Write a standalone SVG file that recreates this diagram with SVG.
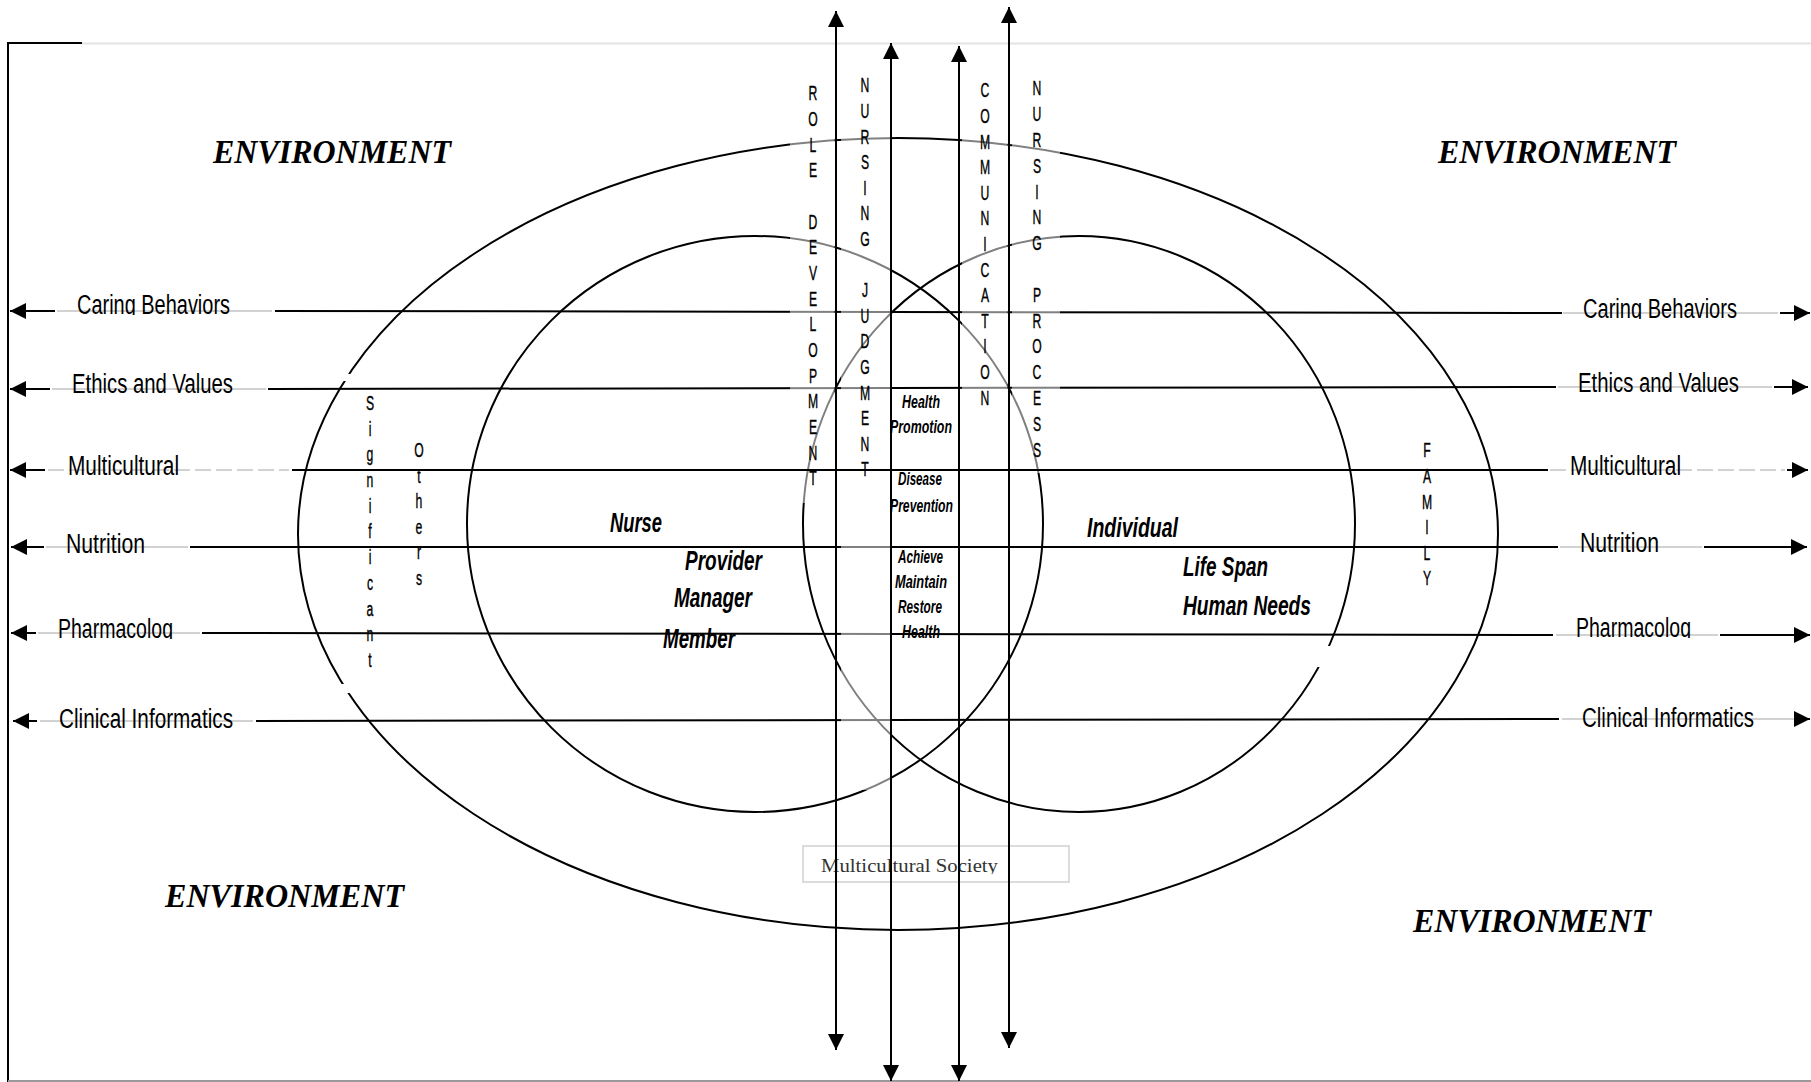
<svg xmlns="http://www.w3.org/2000/svg" width="1811" height="1082" viewBox="0 0 1811 1082">
<defs>
<style>
.ln{stroke:#000;stroke-width:2;fill:none}
.gl{stroke:#d2d2d2;stroke-width:2;fill:none}
.gd{stroke:#d2d2d2;stroke-width:2;fill:none;stroke-dasharray:16 5}
.shape{stroke:#000;stroke-width:2;fill:none}
.veil{fill:#fff;fill-opacity:0.5;stroke:none}
.lbl{font-family:"Liberation Sans",Arial,sans-serif;font-size:27px;fill:#000}
.env{font-family:"Liberation Serif","Times New Roman",serif;font-size:33px;font-weight:bold;font-style:italic;fill:#000}
.bi{font-family:"Liberation Sans",Arial,sans-serif;font-weight:bold;font-style:italic;fill:#000}
.col{font-family:"Liberation Sans",Arial,sans-serif;font-size:21px;fill:#000;text-anchor:middle;stroke:#000;stroke-width:0.4}
</style>
<marker id="ah" viewBox="0 0 16 16" refX="16" refY="8" markerWidth="16" markerHeight="16" markerUnits="userSpaceOnUse" orient="auto-start-reverse"><path d="M0,0 L16,8 L0,16 z" fill="#000"/></marker>
<clipPath id="clipL1"><rect x="0" y="250" width="300" height="65"/></clipPath>
<clipPath id="clipR1"><rect x="1500" y="250" width="311" height="69"/></clipPath>
<clipPath id="clipL5"><rect x="0" y="580" width="300" height="59"/></clipPath>
<clipPath id="clipR5"><rect x="1500" y="580" width="311" height="58"/></clipPath>
<clipPath id="clipMS"><rect x="800" y="840" width="280" height="34"/></clipPath>
</defs>
<rect width="1811" height="1082" fill="#fff"/>

<g id="frame">
<line x1="82" y1="43.5" x2="1811" y2="43.5" stroke="#e4e4e4" stroke-width="2"/>
<line x1="8" y1="43" x2="82" y2="43" class="ln"/>
<line x1="8" y1="42" x2="8" y2="1082" class="ln"/>
<line x1="8" y1="1081" x2="1811" y2="1081" stroke="#9a9a9a" stroke-width="2"/>
</g>

<g id="outer-ellipse"><ellipse cx="898" cy="534" rx="600" ry="396" class="shape"/></g>
<g id="nurse-circle"><ellipse cx="755" cy="524" rx="288" ry="288" class="shape"/></g>
<g id="individual-circle"><ellipse cx="1079" cy="524" rx="276" ry="288" class="shape"/></g>

<g id="connectors">
<!-- Caring Behaviors -->
<line x1="55" y1="311" x2="10" y2="311" class="ln" marker-end="url(#ah)"/>
<line x1="57" y1="311" x2="272" y2="311" class="gl"/>
<line x1="275" y1="311" x2="1562" y2="313" class="ln"/>
<line x1="1563" y1="313" x2="1778" y2="313" class="gl"/>
<line x1="1780" y1="313" x2="1810" y2="313" class="ln" marker-end="url(#ah)"/>
<!-- Ethics and Values -->
<line x1="50" y1="389" x2="10" y2="389" class="ln" marker-end="url(#ah)"/>
<line x1="52" y1="389" x2="266" y2="389" class="gl"/>
<line x1="268" y1="389" x2="1556" y2="387" class="ln"/>
<line x1="1558" y1="387" x2="1772" y2="387" class="gl"/>
<line x1="1774" y1="387" x2="1808" y2="387" class="ln" marker-end="url(#ah)"/>
<!-- Nutrition -->
<line x1="44" y1="547" x2="11" y2="547" class="ln" marker-end="url(#ah)"/>
<line x1="46" y1="547" x2="188" y2="547" class="gl"/>
<line x1="190" y1="547" x2="1558" y2="547" class="ln"/>
<line x1="1560" y1="547" x2="1702" y2="547" class="gl"/>
<line x1="1704" y1="547" x2="1807" y2="547" class="ln" marker-end="url(#ah)"/>
<!-- Pharmacolog -->
<line x1="36" y1="633" x2="11" y2="633" class="ln" marker-end="url(#ah)"/>
<line x1="38" y1="633" x2="200" y2="633" class="gl"/>
<line x1="202" y1="633" x2="1553" y2="635" class="ln"/>
<line x1="1556" y1="635" x2="1718" y2="635" class="gl"/>
<line x1="1720" y1="635" x2="1810" y2="635" class="ln" marker-end="url(#ah)"/>
<!-- Clinical Informatics -->
<line x1="37" y1="721" x2="13" y2="721" class="ln" marker-end="url(#ah)"/>
<line x1="40" y1="721" x2="253" y2="721" class="gl"/>
<line x1="256" y1="721" x2="1559" y2="719" class="ln"/>
<line x1="1562" y1="719" x2="1795" y2="719" class="gl"/>
<line x1="1795" y1="719" x2="1810" y2="719" class="ln" marker-end="url(#ah)"/>
</g>

<g id="column-veils">
<rect x="790" y="75" width="44.5" height="428" class="veil"/>
<rect x="841" y="75" width="49" height="715" class="veil"/>
<rect x="962" y="75" width="45.5" height="340" class="veil"/>
<rect x="1012" y="75" width="48" height="398" class="veil"/>
</g>

<g id="connectors-multicultural">
<line x1="45" y1="470" x2="10" y2="470" class="ln" marker-end="url(#ah)"/>
<line x1="48" y1="470" x2="289" y2="470" class="gd"/>
<line x1="292" y1="470" x2="1548" y2="470" class="ln"/>
<line x1="1550" y1="470" x2="1785" y2="470" class="gd"/>
<line x1="1787" y1="470" x2="1808" y2="470" class="ln" marker-end="url(#ah)"/>
</g>

<g id="gaps" fill="#fff">
<rect x="340" y="374" width="13" height="7"/>
<rect x="340" y="684" width="14" height="9"/>
<rect x="1313" y="646" width="22" height="21"/>
</g>

<g id="multicultural-society">
<rect x="803" y="846" width="266" height="36" fill="#fff" stroke="#dcdcdc" stroke-width="2"/>
<text x="821" y="872" clip-path="url(#clipMS)" font-family="Liberation Serif,'Times New Roman',serif" font-size="19" fill="#333" textLength="177" lengthAdjust="spacingAndGlyphs">Multicultural Society</text>
</g>

<g id="vertical-arrows">
<line x1="836" y1="11" x2="836" y2="1050" class="ln" marker-start="url(#ah)" marker-end="url(#ah)"/>
<line x1="891" y1="43" x2="891" y2="1081" class="ln" marker-start="url(#ah)" marker-end="url(#ah)"/>
<line x1="959" y1="46" x2="959" y2="1081" class="ln" marker-start="url(#ah)" marker-end="url(#ah)"/>
<line x1="1009" y1="7" x2="1009" y2="1048" class="ln" marker-start="url(#ah)" marker-end="url(#ah)"/>
</g>

<g id="environment-labels">
<text class="env" x="213" y="163" textLength="238" lengthAdjust="spacingAndGlyphs">ENVIRONMENT</text>
<text class="env" x="1438" y="163" textLength="238" lengthAdjust="spacingAndGlyphs">ENVIRONMENT</text>
<text class="env" x="165" y="907" textLength="239" lengthAdjust="spacingAndGlyphs">ENVIRONMENT</text>
<text class="env" x="1413" y="932" textLength="238" lengthAdjust="spacingAndGlyphs">ENVIRONMENT</text>
</g>

<g id="left-labels">
<text class="lbl" x="77" y="314" clip-path="url(#clipL1)" textLength="153" lengthAdjust="spacingAndGlyphs">Caring Behaviors</text>
<text class="lbl" x="72" y="393" textLength="161" lengthAdjust="spacingAndGlyphs">Ethics and Values</text>
<text class="lbl" x="68" y="475" textLength="111" lengthAdjust="spacingAndGlyphs">Multicultural</text>
<text class="lbl" x="66" y="553" textLength="79" lengthAdjust="spacingAndGlyphs">Nutrition</text>
<text class="lbl" x="58" y="638" clip-path="url(#clipL5)" textLength="115" lengthAdjust="spacingAndGlyphs">Pharmacolog</text>
<text class="lbl" x="59" y="728" textLength="174" lengthAdjust="spacingAndGlyphs">Clinical Informatics</text>
</g>

<g id="right-labels">
<text class="lbl" x="1583" y="318" clip-path="url(#clipR1)" textLength="154" lengthAdjust="spacingAndGlyphs">Caring Behaviors</text>
<text class="lbl" x="1578" y="392" textLength="161" lengthAdjust="spacingAndGlyphs">Ethics and Values</text>
<text class="lbl" x="1570" y="475" textLength="111" lengthAdjust="spacingAndGlyphs">Multicultural</text>
<text class="lbl" x="1580" y="552" textLength="79" lengthAdjust="spacingAndGlyphs">Nutrition</text>
<text class="lbl" x="1576" y="637" clip-path="url(#clipR5)" textLength="115" lengthAdjust="spacingAndGlyphs">Pharmacolog</text>
<text class="lbl" x="1582" y="727" textLength="172" lengthAdjust="spacingAndGlyphs">Clinical Informatics</text>
</g>

<g id="role-development" transform="translate(813,0) scale(0.58,1)">
<text class="col"><tspan x="0" y="100.5">R</tspan><tspan x="0" y="126">O</tspan><tspan x="0" y="152">L</tspan><tspan x="0" y="177.5">E</tspan><tspan x="0" y="229">D</tspan><tspan x="0" y="254.5">E</tspan><tspan x="0" y="280">V</tspan><tspan x="0" y="306">E</tspan><tspan x="0" y="331.5">L</tspan><tspan x="0" y="357">O</tspan><tspan x="0" y="383">P</tspan><tspan x="0" y="408.5">M</tspan><tspan x="0" y="434">E</tspan><tspan x="0" y="460">N</tspan><tspan x="0" y="485.5">T</tspan></text>
</g>
<g id="nursing-judgment" transform="translate(865,0) scale(0.58,1)">
<text class="col"><tspan x="0" y="92.5">N</tspan><tspan x="0" y="118">U</tspan><tspan x="0" y="143.7">R</tspan><tspan x="0" y="169.3">S</tspan><tspan x="0" y="195">I</tspan><tspan x="0" y="220.5">N</tspan><tspan x="0" y="246">G</tspan><tspan x="0" y="297.3">J</tspan><tspan x="0" y="323">U</tspan><tspan x="0" y="348.5">D</tspan><tspan x="0" y="374">G</tspan><tspan x="0" y="399.7">M</tspan><tspan x="0" y="425.3">E</tspan><tspan x="0" y="451">N</tspan><tspan x="0" y="476.5">T</tspan></text>
</g>
<g id="communication" transform="translate(985,0) scale(0.58,1)">
<text class="col"><tspan x="0" y="97.5">C</tspan><tspan x="0" y="123.1">O</tspan><tspan x="0" y="148.7">M</tspan><tspan x="0" y="174.3">M</tspan><tspan x="0" y="199.9">U</tspan><tspan x="0" y="225.5">N</tspan><tspan x="0" y="251.1">I</tspan><tspan x="0" y="276.7">C</tspan><tspan x="0" y="302.3">A</tspan><tspan x="0" y="327.9">T</tspan><tspan x="0" y="353.5">I</tspan><tspan x="0" y="379.1">O</tspan><tspan x="0" y="404.7">N</tspan></text>
</g>
<g id="nursing-process" transform="translate(1037,0) scale(0.58,1)">
<text class="col"><tspan x="0" y="95.5">N</tspan><tspan x="0" y="121.3">U</tspan><tspan x="0" y="147.1">R</tspan><tspan x="0" y="172.9">S</tspan><tspan x="0" y="198.7">I</tspan><tspan x="0" y="224.5">N</tspan><tspan x="0" y="250.3">G</tspan><tspan x="0" y="301.9">P</tspan><tspan x="0" y="327.7">R</tspan><tspan x="0" y="353.5">O</tspan><tspan x="0" y="379.3">C</tspan><tspan x="0" y="405.1">E</tspan><tspan x="0" y="430.9">S</tspan><tspan x="0" y="456.7">S</tspan></text>
</g>
<g id="significant" transform="translate(370,0) scale(0.58,1)">
<text class="col"><tspan x="0" y="410">S</tspan><tspan x="0" y="435.7">i</tspan><tspan x="0" y="461.4">g</tspan><tspan x="0" y="487.1">n</tspan><tspan x="0" y="512.8">i</tspan><tspan x="0" y="538.5">f</tspan><tspan x="0" y="564.2">i</tspan><tspan x="0" y="589.9">c</tspan><tspan x="0" y="615.6">a</tspan><tspan x="0" y="641.3">n</tspan><tspan x="0" y="667">t</tspan></text>
</g>
<g id="others" transform="translate(419,0) scale(0.58,1)">
<text class="col"><tspan x="0" y="457">O</tspan><tspan x="0" y="482.6">t</tspan><tspan x="0" y="508.2">h</tspan><tspan x="0" y="533.8">e</tspan><tspan x="0" y="559.4">r</tspan><tspan x="0" y="585">s</tspan></text>
</g>
<g id="family" transform="translate(1427,0) scale(0.58,1)">
<text class="col"><tspan x="0" y="457.5">F</tspan><tspan x="0" y="483.1">A</tspan><tspan x="0" y="508.7">M</tspan><tspan x="0" y="534.3">I</tspan><tspan x="0" y="559.9">L</tspan><tspan x="0" y="585.5">Y</tspan></text>
</g>

<g id="nurse-node">
<text class="bi" font-size="28" x="610" y="532" textLength="52" lengthAdjust="spacingAndGlyphs">Nurse</text>
<text class="bi" font-size="28" x="685" y="570" textLength="77" lengthAdjust="spacingAndGlyphs">Provider</text>
<text class="bi" font-size="28" x="674" y="607" textLength="78" lengthAdjust="spacingAndGlyphs">Manager</text>
<text class="bi" font-size="28" x="663" y="648" textLength="72" lengthAdjust="spacingAndGlyphs">Member</text>
</g>

<g id="individual-node">
<text class="bi" font-size="28" x="1087" y="537" textLength="91" lengthAdjust="spacingAndGlyphs">Individual</text>
<text class="bi" font-size="28" x="1183" y="576" textLength="85" lengthAdjust="spacingAndGlyphs">Life Span</text>
<text class="bi" font-size="28" x="1183" y="615" textLength="128" lengthAdjust="spacingAndGlyphs">Human Needs</text>
</g>

<g id="health-node">
<text class="bi" font-size="19" x="902" y="408" textLength="38" lengthAdjust="spacingAndGlyphs">Health</text>
<text class="bi" font-size="19" x="890" y="433" textLength="62" lengthAdjust="spacingAndGlyphs">Promotion</text>
<text class="bi" font-size="19" x="898" y="485" textLength="44" lengthAdjust="spacingAndGlyphs">Disease</text>
<text class="bi" font-size="19" x="890" y="512" textLength="63" lengthAdjust="spacingAndGlyphs">Prevention</text>
<text class="bi" font-size="19" x="898" y="563" textLength="45" lengthAdjust="spacingAndGlyphs">Achieve</text>
<text class="bi" font-size="19" x="895" y="588" textLength="52" lengthAdjust="spacingAndGlyphs">Maintain</text>
<text class="bi" font-size="19" x="898" y="613" textLength="44" lengthAdjust="spacingAndGlyphs">Restore</text>
<text class="bi" font-size="19" x="902" y="638" textLength="38" lengthAdjust="spacingAndGlyphs">Health</text>
</g>
</svg>
